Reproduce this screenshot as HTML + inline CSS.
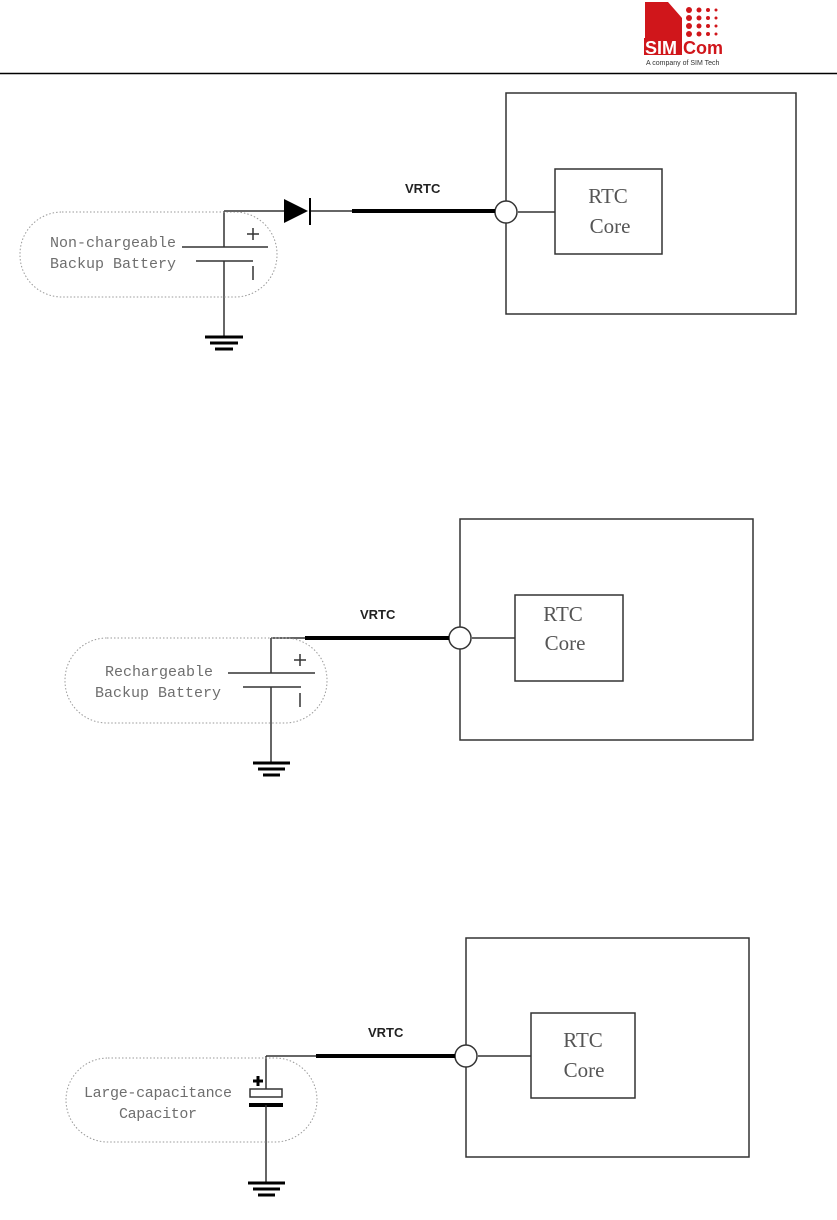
<!DOCTYPE html>
<html><head><meta charset="utf-8"><style>
html,body{margin:0;padding:0;background:#fff;}
svg{display:block;}
.lbl{font-family:"Liberation Mono",monospace;font-size:15px;fill:#6e6e6e;}
.v{font-family:"Liberation Sans",sans-serif;font-size:13px;font-weight:bold;fill:#222;}
.rtc{font-family:"Liberation Serif",serif;font-size:21px;fill:#555;}
</style></head><body>
<svg width="837" height="1220" viewBox="0 0 837 1220" xmlns="http://www.w3.org/2000/svg">
<path d="M645 2 L668 2 L682 18 L682 38 L645 38 Z" fill="#d0161b"/>
<g fill="#d0161b">
<circle cx="689" cy="10" r="3"/><circle cx="699" cy="10" r="2.5"/><circle cx="708" cy="10" r="2"/><circle cx="716" cy="10" r="1.5"/>
<circle cx="689" cy="18" r="3"/><circle cx="699" cy="18" r="2.5"/><circle cx="708" cy="18" r="2"/><circle cx="716" cy="18" r="1.5"/>
<circle cx="689" cy="26" r="3"/><circle cx="699" cy="26" r="2.5"/><circle cx="708" cy="26" r="2"/><circle cx="716" cy="26" r="1.5"/>
<circle cx="689" cy="34" r="3"/><circle cx="699" cy="34" r="2.5"/><circle cx="708" cy="34" r="2"/><circle cx="716" cy="34" r="1.5"/>
</g>
<rect x="644" y="38" width="38" height="17" fill="#d0161b"/>
<text x="645" y="54" font-family="Liberation Sans,sans-serif" font-weight="bold" font-size="18" fill="#fff">SIM</text>
<text x="683" y="54" font-family="Liberation Sans,sans-serif" font-weight="bold" font-size="18" fill="#d0161b">Com</text>
<text x="646" y="65" font-family="Liberation Sans,sans-serif" font-size="7" fill="#333">A company of SIM Tech</text>
<line x1="0" y1="73.5" x2="837" y2="73.5" stroke="#000" stroke-width="1.5"/>

<g stroke="#333" stroke-width="1.5" fill="none">
<rect x="506" y="93" width="290" height="221"/>
<rect x="555" y="169" width="107" height="85"/>
<line x1="518" y1="212" x2="555" y2="212"/>
<circle cx="506" cy="212" r="11" fill="#fff"/>
<line x1="224" y1="211" x2="284" y2="211"/>
<line x1="310" y1="211" x2="352" y2="211"/>
<line x1="352" y1="211" x2="495" y2="211" stroke="#000" stroke-width="4"/>
<line x1="224" y1="211" x2="224" y2="247"/>
<line x1="182" y1="247" x2="268" y2="247"/>
<line x1="196" y1="261" x2="253" y2="261"/>
<line x1="224" y1="261" x2="224" y2="336"/>
<line x1="205" y1="337" x2="243" y2="337" stroke-width="3" stroke="#000"/>
<line x1="210" y1="343" x2="238" y2="343" stroke-width="3" stroke="#000"/>
<line x1="215" y1="349" x2="233" y2="349" stroke-width="3" stroke="#000"/>
<rect x="20" y="212" width="257" height="85" rx="42" stroke="#999" stroke-width="1" stroke-dasharray="1.5,2"/>
<rect x="460" y="519" width="293" height="221"/>
<rect x="515" y="595" width="108" height="86"/>
<line x1="472" y1="638" x2="515" y2="638"/>
<circle cx="460" cy="638" r="11" fill="#fff"/>
<line x1="271" y1="638" x2="305" y2="638"/>
<line x1="305" y1="638" x2="449" y2="638" stroke="#000" stroke-width="4"/>
<line x1="271" y1="638" x2="271" y2="673"/>
<line x1="228" y1="673" x2="315" y2="673"/>
<line x1="243" y1="687" x2="301" y2="687"/>
<line x1="271" y1="687" x2="271" y2="762"/>
<line x1="253" y1="763" x2="290" y2="763" stroke-width="3" stroke="#000"/>
<line x1="258" y1="769" x2="285" y2="769" stroke-width="3" stroke="#000"/>
<line x1="263" y1="775" x2="280" y2="775" stroke-width="3" stroke="#000"/>
<rect x="65" y="638" width="262" height="85" rx="42" stroke="#999" stroke-width="1" stroke-dasharray="1.5,2"/>
<rect x="466" y="938" width="283" height="219"/>
<rect x="531" y="1013" width="104" height="85"/>
<line x1="478" y1="1056" x2="531" y2="1056"/>
<circle cx="466" cy="1056" r="11" fill="#fff"/>
<line x1="266" y1="1056" x2="316" y2="1056"/>
<line x1="316" y1="1056" x2="455" y2="1056" stroke="#000" stroke-width="4"/>
<line x1="266" y1="1056" x2="266" y2="1089"/>
<rect x="250" y="1089" width="32" height="8"/>
<line x1="249" y1="1105" x2="283" y2="1105" stroke="#000" stroke-width="4"/>
<line x1="266" y1="1105" x2="266" y2="1182"/>
<line x1="248" y1="1183" x2="285" y2="1183" stroke-width="3" stroke="#000"/>
<line x1="253" y1="1189" x2="280" y2="1189" stroke-width="3" stroke="#000"/>
<line x1="258" y1="1195" x2="275" y2="1195" stroke-width="3" stroke="#000"/>
<rect x="66" y="1058" width="251" height="84" rx="42" stroke="#999" stroke-width="1" stroke-dasharray="1.5,2"/>
</g>
<polygon points="284,199 284,223 308,211" fill="#000"/>
<line x1="310" y1="198" x2="310" y2="225" stroke="#000" stroke-width="2"/>
<g stroke="#333" stroke-width="1.5">
<line x1="247" y1="234" x2="259" y2="234"/><line x1="253" y1="228" x2="253" y2="240"/>
<line x1="253" y1="266" x2="253" y2="280"/>
<line x1="294" y1="660" x2="306" y2="660"/><line x1="300" y1="654" x2="300" y2="666"/>
<line x1="300" y1="693" x2="300" y2="707"/>
</g>
<g stroke="#000" stroke-width="3">
<line x1="253" y1="1081" x2="263" y2="1081"/><line x1="258" y1="1076" x2="258" y2="1086"/>
</g>
<text class="v" x="405" y="193">VRTC</text>
<text class="v" x="360" y="619">VRTC</text>
<text class="v" x="368" y="1037">VRTC</text>
<text class="rtc" x="608" y="203" text-anchor="middle">RTC</text>
<text class="rtc" x="610" y="233" text-anchor="middle">Core</text>
<text class="rtc" x="563" y="621" text-anchor="middle">RTC</text>
<text class="rtc" x="565" y="650" text-anchor="middle">Core</text>
<text class="rtc" x="583" y="1047" text-anchor="middle">RTC</text>
<text class="rtc" x="584" y="1077" text-anchor="middle">Core</text>
<text class="lbl" x="50" y="247">Non-chargeable</text>
<text class="lbl" x="50" y="268">Backup Battery</text>
<text class="lbl" x="105" y="676">Rechargeable</text>
<text class="lbl" x="95" y="697">Backup Battery</text>
<text class="lbl" x="84" y="1097" textLength="148">Large-capacitance</text>
<text class="lbl" x="119" y="1118" textLength="78">Capacitor</text>
</svg>
</body></html>
